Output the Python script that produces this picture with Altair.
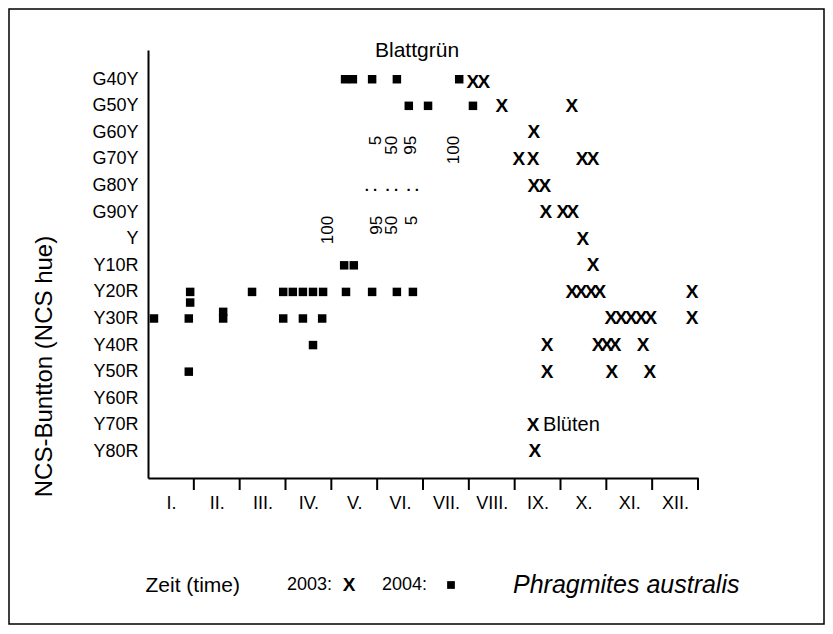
import altair as alt
import pandas as pd

FONT = "Liberation Sans"

# NCS hue categories (top to bottom) and month labels
hues = ["G40Y", "G50Y", "G60Y", "G70Y", "G80Y", "G90Y", "Y", "Y10R", "Y20R",
        "Y30R", "Y40R", "Y50R", "Y60R", "Y70R", "Y80R"]
months = ["I.", "II.", "III.", "IV.", "V.", "VI.", "VII.", "VIII.", "IX.",
          "X.", "XI.", "XII."]

# 2004 observations (squares): time in months since 1 Jan, hue row index
sq_month = [0.13, 0.89, 1.64, 2.95, 3.38, 3.80,
            0.92, 2.27, 2.95, 3.16, 3.38, 3.60, 3.82, 4.32, 4.89, 5.43, 5.78,
            0.92, 1.64, 3.60, 0.89, 4.28, 4.49,
            4.30, 4.47, 4.89, 5.43, 6.79,
            5.69, 6.11, 7.09]
sq_row = [9, 9, 9, 9, 9, 9,
          8, 8, 8, 8, 8, 8, 8, 8, 8, 8, 8,
          8.4, 8.75, 10, 11, 7, 7,
          0, 0, 0, 0, 0,
          1, 1, 1]

# 2003 observations (X): time in months since 1 Jan, hue row index
x_month = [7.09, 7.33,
           7.72, 9.25,
           8.42,
           8.09, 8.40, 9.47, 9.71,
           8.42, 8.66,
           8.68, 9.05, 9.27,
           9.49,
           9.71,
           9.25, 9.45, 9.67, 9.86, 11.87,
           10.10, 10.32, 10.54, 10.76, 10.97, 11.87,
           8.71, 9.82, 10.01, 10.19, 10.80,
           8.71, 10.12, 10.95,
           8.40,
           8.44]
x_row = [0.1, 0.1,
         1, 1,
         2,
         3, 3, 3, 3,
         4, 4,
         5, 5, 5,
         6,
         7,
         8, 8, 8, 8, 8,
         9, 9, 9, 9, 9, 9,
         10, 10, 10, 10, 10,
         11, 11, 11,
         13,
         14]

# rotated percentage annotations (Blattgrün)
top_pct = ["5", "50", "95", "100"]
top_pct_month = [4.97, 5.32, 5.74, 6.68]
bot_pct = ["100", "95", "50", "5"]
bot_pct_month = [3.93, 5.00, 5.32, 5.76]

xscale = alt.Scale(domain=[0, 12], nice=False, zero=False)
yscale = alt.Scale(domain=[-1.1, 15], nice=False, zero=False, reverse=True)

y_expr = "[" + ",".join("'%s'" % h for h in hues) + "][datum.value]"
x_expr = "[" + ",".join("'%s'" % m for m in months) + "][floor(datum.value)]"

xaxis = alt.Axis(values=[i + 0.5 for i in range(12)], labelExpr=x_expr,
                 ticks=False, tickSize=0, grid=False, domainColor="black",
                 domainWidth=2, labelFont=FONT, labelFontSize=18,
                 labelColor="black", labelPadding=16, labelFlush=False,
                 labelOverlap=False, labelBound=False,
                 title="Zeit (time)", titleX=-3, titleY=107,
                 titleAlign="left", titleBaseline="middle",
                 titleFont=FONT, titleFontSize=21,
                 titleFontWeight="normal", titleColor="black")
yaxis = alt.Axis(values=list(range(15)), labelExpr=y_expr,
                 ticks=False, tickSize=0, grid=False, domainColor="black",
                 domainWidth=2, labelFont=FONT, labelFontSize=18,
                 labelColor="black", labelPadding=10, labelOverlap=False,
                 labelFlush=False, labelBound=False,
                 title="NCS-Buntton (NCS hue)", titleX=-104, titleY=316,
                 titleAngle=270, titleAlign="center",
                 titleBaseline="middle", titleFont=FONT,
                 titleFontSize=24, titleFontWeight="normal",
                 titleColor="black")


def X():
    return alt.X("m:Q", scale=xscale, axis=xaxis)


def Y():
    return alt.Y("r:Q", scale=yscale, axis=yaxis)


df_sq = pd.DataFrame({"m": sq_month, "r": sq_row})
df_x = pd.DataFrame({"m": x_month, "r": x_row, "t": ["X"] * len(x_month)})

frame = alt.Chart(pd.DataFrame({"a": [0]})).mark_rect(
    fill="transparent", stroke="black", strokeWidth=1.5
).encode(x=alt.value(-139), x2=alt.value(676), y=alt.value(-41), y2=alt.value(574))

ticks = alt.Chart(pd.DataFrame({"m": list(range(1, 13))})).mark_rule(
    color="black", strokeWidth=2
).encode(x=X(), y=alt.value(428), y2=alt.value(440))

squares = alt.Chart(df_sq).mark_square(size=72, color="black", opacity=1).encode(
    x=X(), y=Y()
)

xs = alt.Chart(df_x).mark_text(font=FONT, fontSize=19, fontWeight="bold", color="black",
                               align="center", baseline="middle").encode(
    x=X(), y=Y(), text="t:N"
)

blatt = alt.Chart(pd.DataFrame({"m": [5.87], "r": [-1.05], "t": ["Blattgrün"]})).mark_text(
    font=FONT, fontSize=21, color="black", align="center", baseline="middle"
).encode(x=X(), y=Y(), text="t:N")

pct_df = pd.DataFrame({
    "m": top_pct_month + bot_pct_month,
    "r": [2.13] * 4 + [5.14] * 4,
    "t": top_pct + bot_pct,
})
pct = alt.Chart(pct_df).mark_text(
    font=FONT, fontSize=17, color="black", align="right", baseline="middle", angle=270
).encode(x=X(), y=Y(), text="t:N")

NB = "\u00a0"
dots_text = "." + NB + "." + NB * 2 + "." + NB + "." + NB * 2 + "." + NB + "."
dots = alt.Chart(pd.DataFrame({"m": [5.32], "r": [4.0], "t": [dots_text]})).mark_text(
    font=FONT, fontSize=15, fontWeight="bold", color="black", align="center", baseline="middle"
).encode(x=X(), y=Y(), text="t:N")

bluten = alt.Chart(pd.DataFrame({"m": [8.62], "r": [13], "t": ["Blüten"]})).mark_text(
    font=FONT, fontSize=20, color="black", align="left", baseline="middle"
).encode(x=X(), y=Y(), text="t:N")

# caption row below the axis
cap_2003 = alt.Chart(pd.DataFrame({"t": ["2003:"]})).mark_text(
    font=FONT, fontSize=18, color="black", align="left", baseline="middle"
).encode(x=alt.value(139), y=alt.value(535), text="t:N")

cap_2004 = alt.Chart(pd.DataFrame({"t": ["2004:"]})).mark_text(
    font=FONT, fontSize=18, color="black", align="left", baseline="middle"
).encode(x=alt.value(234), y=alt.value(535), text="t:N")

cap_x = alt.Chart(pd.DataFrame({"t": ["X"]})).mark_text(
    font=FONT, fontSize=19, fontWeight="bold", color="black", align="center", baseline="middle"
).encode(x=alt.value(201), y=alt.value(535), text="t:N")

cap_sq = alt.Chart(pd.DataFrame({"a": [0]})).mark_square(
    size=60, color="black", opacity=1
).encode(x=alt.value(303), y=alt.value(535))

species = alt.Chart(pd.DataFrame({"t": ["Phragmites australis"]})).mark_text(
    font=FONT, fontSize=25, fontStyle="italic", color="black", align="left", baseline="middle"
).encode(x=alt.value(365), y=alt.value(535), text="t:N")

chart = alt.layer(
    frame, ticks, squares, xs, blatt, pct, dots, bluten,
    cap_2003, cap_2004, cap_x, cap_sq, species
).properties(
    width=550, height=428,
    padding={"left": 140, "top": 42, "right": 127, "bottom": 147},
    autosize=alt.AutoSizeParams(type="none"),
    background="white",
).configure_view(stroke=None)

chart.save("out.html", embed_options={"renderer": "svg", "actions": False})
